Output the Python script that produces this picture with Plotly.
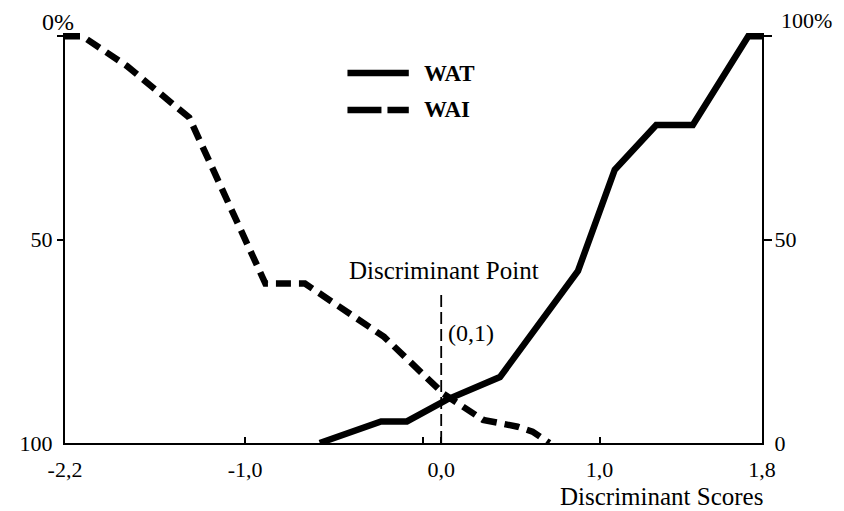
import plotly.graph_objects as go

# ---- data (x in the drawn discriminant-score scale) ----
wat_x = [-0.738, -0.386, -0.238, -0.011, 0.296, 0.744, 0.955, 1.193, 1.403, 1.721, 1.8]
wat_y = [0, 5.3, 5.3, 10.6, 16.2, 42.3, 67.2, 78.2, 78.2, 100, 100]          # %, right axis (0 bottom)

wai_x = [-2.2, -2.10, -1.845, -1.487, -1.05, -0.823, -0.369, -0.028, 0.199, 0.398, 0.483, 0.58]
wai_y = [0, 0, 7.3, 20, 60.8, 60.8, 73.9, 87.9, 94.3, 96, 97.2, 100]          # %, left axis (0 top)

x_tick_vals = [-2.2, -1.166, -0.041, 0.868, 1.8]
x_tick_text = ["-2,2", "-1,0", "0,0", "1,0", "1,8"]
x_minor_ticks = [-0.143]

left_tick_vals = [50, 100]
left_tick_text = ["50", "100"]
right_tick_vals = [0, 50]
right_tick_text = ["0", "50"]

disc_point_x = -0.041
disc_line_y = [0, 36.7]

SERIF = "Liberation Serif"

fig = go.Figure()

fig.add_trace(go.Scatter(
    x=wai_x, y=wai_y, mode="lines", name="WAI", yaxis="y",
    line=dict(color="black", width=6.5, dash="15px,8px"),
    showlegend=False,
))
fig.add_trace(go.Scatter(
    x=wat_x, y=wat_y, mode="lines", name="WAT", yaxis="y2",
    line=dict(color="black", width=6.5),
    showlegend=False,
))
# discriminant point vertical dashed line
fig.add_trace(go.Scatter(
    x=[disc_point_x, disc_point_x], y=disc_line_y, mode="lines", yaxis="y2",
    line=dict(color="black", width=1.8, dash="12px,5px"),
    showlegend=False, hoverinfo="skip",
))

tickfont = dict(family=SERIF, size=22, color="black")

# page body has an 8px margin, so the figure is 8px smaller than the window
fig.update_layout(
    width=836, height=503, autosize=False,
    margin=dict(l=49.5, r=82, t=25, b=68, pad=0),
    paper_bgcolor="white", plot_bgcolor="white",
    font=dict(family=SERIF, color="black"),
    xaxis=dict(
        range=[-2.2, 1.8], showgrid=False, zeroline=False,
        showline=True, linecolor="black", linewidth=2,
        tickmode="array", tickvals=x_tick_vals, ticktext=x_tick_text,
        ticks="inside", ticklen=6, tickwidth=1.5, tickcolor="black",
        tickfont=tickfont, ticklabelstandoff=6,
        minor=dict(tickmode="array", tickvals=x_minor_ticks, ticks="inside",
                   ticklen=6, tickwidth=1.5, tickcolor="black"),
    ),
    yaxis=dict(
        range=[100, -0.8], showgrid=False, zeroline=False,
        showline=True, linecolor="black", linewidth=2,
        tickmode="array", tickvals=left_tick_vals, ticktext=left_tick_text,
        ticks="", tickfont=tickfont, ticklabelstandoff=6,
        minor=dict(tickmode="array", tickvals=[0, 50], ticks="outside",
                   ticklen=6, tickwidth=1.5, tickcolor="black"),
    ),
    yaxis2=dict(
        range=[0, 100.8], overlaying="y", side="right", showgrid=False, zeroline=False,
        showline=True, linecolor="black", linewidth=2,
        tickmode="array", tickvals=right_tick_vals, ticktext=right_tick_text,
        ticks="", tickfont=tickfont, ticklabelstandoff=6,
        minor=dict(tickmode="array", tickvals=[50, 100], ticks="outside",
                   ticklen=8, tickwidth=1.5, tickcolor="black"),
    ),
)

def px_x(px):
    return (px - 57.5) / 704.5

def px_y(py):
    return (443 - py) / 410.0

annots = [
    dict(text="0%", x=px_x(50), y=px_y(22), size=24),
    dict(text="100%", x=px_x(807), y=px_y(21), size=22),
    dict(text="Discriminant Point", x=px_x(441), y=px_y(270), size=25),
    dict(text="(0,1)", x=px_x(468), y=px_y(333), size=24),
    dict(text="Discriminant Scores", x=px_x(660), y=px_y(496), size=25),
]
for a in annots:
    fig.add_annotation(text=a["text"], x=a["x"], y=a["y"], xref="paper", yref="paper",
                       showarrow=False, xanchor="center", yanchor="middle", borderpad=0,
                       font=dict(family=SERIF, size=a["size"], color="black"))

# legend drawn by hand
fig.add_shape(type="line", xref="paper", yref="paper",
              x0=px_x(343), x1=px_x(405), y0=px_y(73), y1=px_y(73),
              line=dict(color="black", width=6.5))
fig.add_shape(type="line", xref="paper", yref="paper",
              x0=px_x(343), x1=px_x(405), y0=px_y(110), y1=px_y(110),
              line=dict(color="black", width=6.5, dash="34px,6px"))
for name, py in [("WAT", 73), ("WAI", 110)]:
    fig.add_annotation(text="<b>%s</b>" % name, x=px_x(418), y=px_y(py), xref="paper", yref="paper",
                       showarrow=False, xanchor="left", yanchor="middle",
                       font=dict(family=SERIF, size=23, color="black"))

fig.write_html("out.html")
